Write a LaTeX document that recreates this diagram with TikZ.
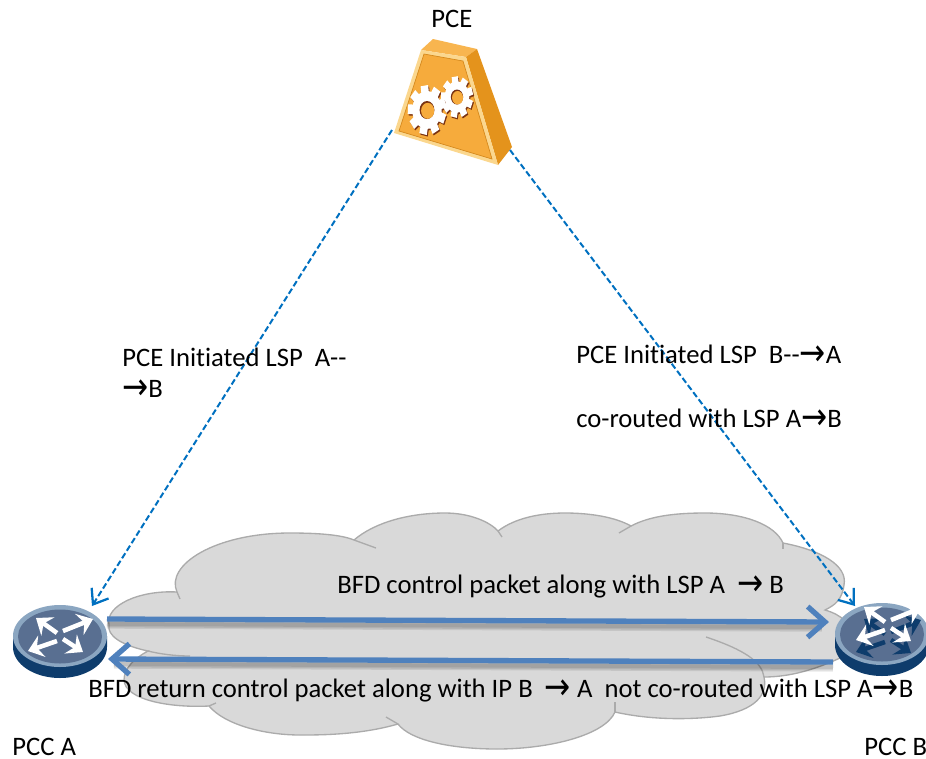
\documentclass[tikz,border=0pt]{standalone}
\usepackage{fontspec}
\setmainfont[Ligatures=NoCommon]{Carlito}
\newfontfamily\arrowfont{DejaVu Sans}
\usetikzlibrary{arrows.meta}
\definecolor{cloudfill}{HTML}{D9D9D9}
\definecolor{cloudline}{HTML}{ABABAB}
\definecolor{flowblue}{HTML}{4F81BD}
\definecolor{linkblue}{HTML}{0070C0}
\definecolor{rimblue}{HTML}{8BA6C1}
\definecolor{faceblue}{HTML}{596F91}
\definecolor{baseblue}{HTML}{0E3C6C}
\definecolor{pcefront}{HTML}{F6AB3C}
\definecolor{pcetop}{HTML}{F8B54F}
\definecolor{pceside}{HTML}{E4931C}
\definecolor{pcerim}{HTML}{FBD78E}
\definecolor{pceedge}{HTML}{D4881C}
\definecolor{gearshade}{HTML}{7A3312}
\newcommand{\arr}{\smash{\raisebox{-1.5pt}{\arrowfont\scalebox{1.17}[1.4]{→}}}}
\tikzset{
  x=0.75pt,y=-0.75pt,
  label text/.style={inner sep=0pt,anchor=base west,font=\fontsize{20pt}{24pt}\selectfont,text=black},
  cloud edge/.style={draw=cloudline,line width=1pt},
  flow/.style={draw=flowblue,line width=4pt,-{Straight Barb[length=13pt,width=23pt,line width=4pt]}},
  flow shadow/.style={draw=black,opacity=0.09},
  link/.style={draw=linkblue,line width=1.5pt,dash pattern=on 4.5pt off 2.2pt,-{Straight Barb[length=10pt,width=15pt,line width=1.7pt]}},
  router arrow/.style={line width=3.4pt,-{Stealth[length=11pt,width=17pt,inset=4pt]}},
}
\newcommand{\routerbody}[3]{%
  \begin{scope}[shift={(#1,#2)}]
    \fill[baseblue] (-47,0) -- (-47,11) arc[start angle=180,end angle=0,x radius=47,y radius=31] -- (47,0) -- cycle;
    \fill[rimblue] (0,0) circle[x radius=47,y radius=31];
    \fill[faceblue] (0,0.5) circle[x radius=42,y radius=27];
    #3
  \end{scope}}
\newcommand{\routerarrows}[1]{%
  \draw[#1,router arrow] (3,-5) -- (33,-17);
  \draw[#1,router arrow] (-3,5) -- (-32,15);
  \draw[#1,router arrow] (-3,-3) -- (-24,-18);
  \draw[#1,router arrow] (3,3) -- (23,16);}
\newcommand{\gear}[4]{%
  \begin{scope}[shift={(#1,#2)},xscale=0.78]
    \foreach \a in {0,40,...,320}{\fill[#4,rotate=\a+8] (-0.23*#3,-1.17*#3) rectangle (0.23*#3,0);}
    \fill[#4] (0,0) circle[radius=0.9*#3];
  \end{scope}}
\begin{document}
\begin{tikzpicture}
\useasboundingbox (0,0) rectangle (926,758);
% cloud
\filldraw[cloud edge,fill=cloudfill]
 (109,625) .. controls (105,605) and (140,590) .. (177,592)
 .. controls (165,565) and (215,533) .. (290,533)
 .. controls (320,533) and (342,535) .. (354,540)
 .. controls (375,522) and (410,513) .. (445,513)
 .. controls (470,513) and (490,522) .. (498,531)
 .. controls (515,518) and (540,513) .. (565,513)
 .. controls (590,513) and (615,517) .. (631,526)
 .. controls (650,516) and (675,513) .. (705,513)
 .. controls (745,513) and (775,525) .. (783,543)
 .. controls (820,550) and (848,565) .. (844,585)
 .. controls (842,600) and (835,605) .. (825,610)
 .. controls (860,620) and (860,650) .. (840,658)
 .. controls (810,672) and (785,677) .. (764,677)
 .. controls (768,695) and (755,710) .. (720,716)
 .. controls (690,720) and (650,720) .. (615,712)
 .. controls (605,735) and (550,749) .. (497,749)
 .. controls (450,749) and (410,740) .. (398,724)
 .. controls (360,735) and (320,735) .. (300,735)
 .. controls (265,735) and (225,725) .. (209,706)
 .. controls (170,708) and (125,700) .. (124,680)
 .. controls (124,668) and (135,658) .. (148,651)
 .. controls (120,645) and (107,635) .. (109,625) -- cycle;
\draw[cloud edge] (177,592) -- (180,599);
\draw[cloud edge] (354,540) -- (376,548);
\draw[cloud edge] (498,531) -- (502,537);
\draw[cloud edge] (631,526) -- (619,533);
\draw[cloud edge] (783,543) -- (783,549);
\draw[cloud edge] (148,651) .. controls (160,654) and (175,656) .. (190,656);
\draw[cloud edge] (706,637) .. controls (745,650) and (762,662) .. (764,677);
\draw[cloud edge] (615,712) -- (615,702);
\draw[cloud edge] (398,724) -- (386,717);
\draw[cloud edge] (209,706) -- (216,703);
% routers
\routerbody{60}{636}{\routerarrows{white}}
\node[inner sep=0pt,minimum size=0pt] (routerA) at (60,636) {};
\routerbody{882}{634}{\begin{scope}[shift={(6,3)}]\routerarrows{baseblue}\end{scope}\begin{scope}[shift={(6,-9)}]\routerarrows{white}\end{scope}}
\node[inner sep=0pt,minimum size=0pt] (routerB) at (882,634) {};
% PCE
\fill[pcetop] (421,50) -- (433,39) -- (477,49) -- (466,57) -- cycle;
\fill[pceside] (466,57) -- (477,49) -- (512,147) -- (498,165) -- cycle;
\fill[pcerim] (421,50) -- (466,57) -- (498,165) -- (394,133) -- cycle;
\filldraw[fill=pcefront,draw=pceedge,line width=0.5pt] (424,54) -- (463,61) -- (492,159) -- (399,131) -- cycle;
\gear{428}{111.5}{21}{gearshade}
\gear{458}{98.5}{17.5}{gearshade}
\gear{427}{110}{21}{white}
\gear{457}{97}{17.5}{white}
\begin{scope}[shift={(427,110)},xscale=0.82]
\fill[gearshade] (0,0) circle[radius=9];
\fill[pcefront] (0.8,0.8) circle[radius=8];
\end{scope}
\begin{scope}[shift={(457,97)},xscale=0.82]
\fill[gearshade] (0,0) circle[radius=7.5];
\fill[pcefront] (0.7,0.7) circle[radius=6.7];
\end{scope}
\node[inner sep=0pt,minimum size=0pt] (pce) at (450,100) {};
\coordinate (pceL) at (392,130);
\coordinate (pceR) at (510,150);
\coordinate (aIn) at (92,606);
\coordinate (bIn) at (855,606);
\coordinate (aOut) at (107,619);
\coordinate (bIn2) at (829,622);
\coordinate (bOut) at (833,662);
\coordinate (aIn2) at (108,659);
% links
\draw[link] (pceL) -- (aIn);
\draw[link] (pceR) -- (bIn);
% flows
\foreach \w in {3pt,5pt,7pt}{
  \draw[flow shadow,line width=\w] (107,624) -- (822,627);
  \draw[flow shadow,line width=\w] (833,667) -- (114,664);
}
\draw[flow] (aOut) -- (bIn2);
\draw[flow] (bOut) -- (aIn2);
% labels
\node[label text] (tPCE) at (431,27) {PCE};
\node[label text] (tA1) at (122,366.5) {PCE Initiated LSP\ \ A-{}-};
\node[label text] (tA2) at (122,397.5) {\arr B};
\node[label text] (tB1) at (576,363.5) {PCE Initiated LSP\ \ B-{}-\arr A};
\node[label text] (tB2) at (576,427.5) {co-routed with LSP A\arr B};
\node[label text] (tF1) at (337,593.5) {BFD control packet along with LSP A\ \ \arr\ B};
\node[label text] (tF2) at (88,697.5) {BFD return control packet along with IP B\ \ \arr\ A\ \ not co-routed with LSP A\arr B};
\node[label text] (tPA) at (12,755) {PCC A};
\node[label text] (tPB) at (864,755) {PCC B};
\end{tikzpicture}
\end{document}
